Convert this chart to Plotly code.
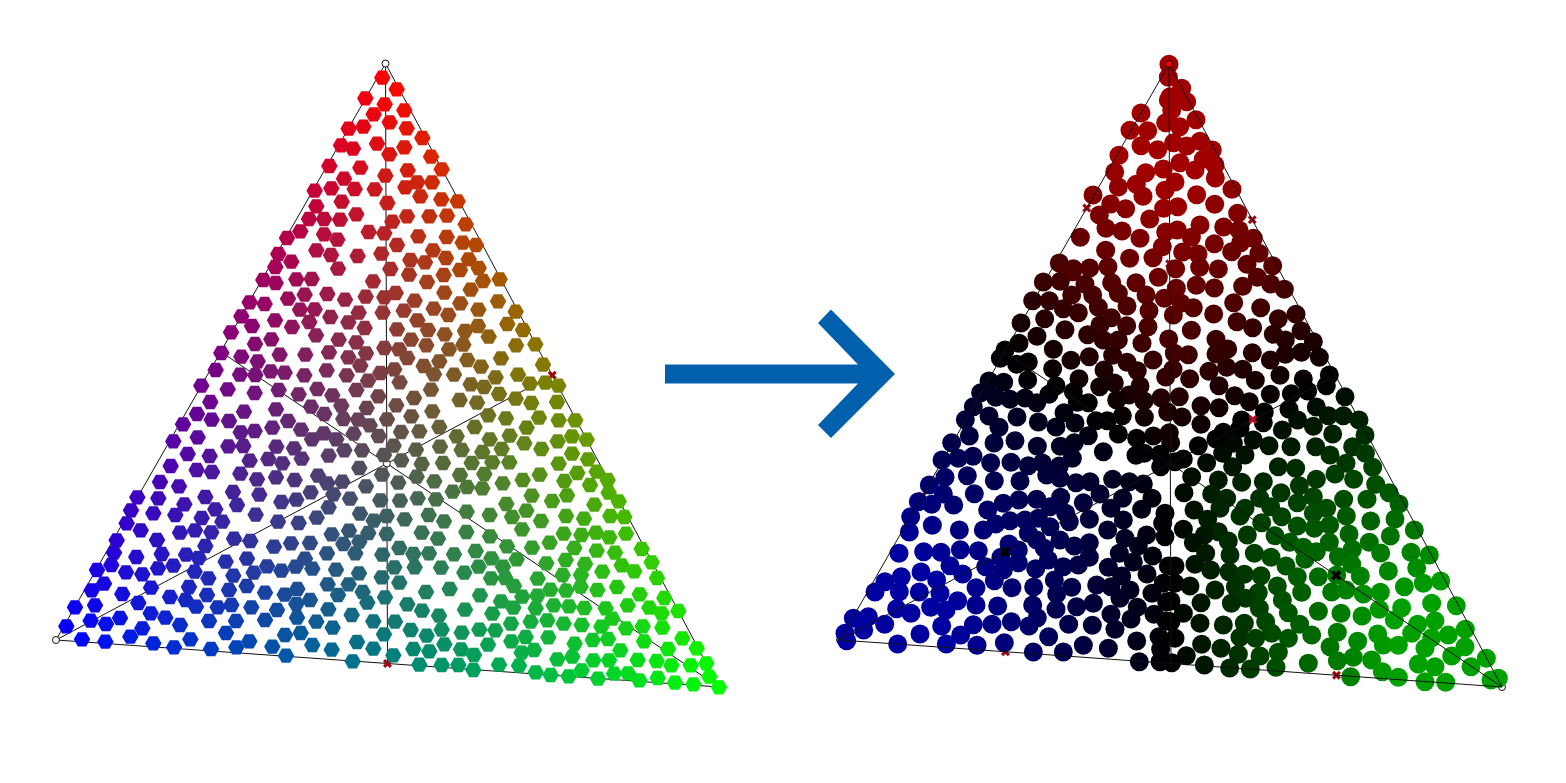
import plotly.graph_objects as go

READ_SCALE = 3

# ---- left triangle: point readings by region ----
left_top_origin = (200, 50)
left_top = [(547,83),(590,118),(496,145),(554,163),(613,181),(521,193),(569,217),(446,236),(490,230),(620,235),(667,264),(423,286),(459,296),(531,281),(613,292),(568,313),(693,320),(388,348),(481,353),(725,358),(623,361),(556,377),(432,386),(652,397),(696,397),(344,422),(394,415),(464,417),(524,418),(616,412),(661,439),(724,448),(773,454),(425,455),(562,459),(349,469),(327,507),(372,507),(420,509),(469,493),(621,499),(688,499),(741,497),(577,515),(797,523),(301,544),(372,553),(506,546),(553,550),(655,559),(740,561),(261,564),(412,569)]

left_mid_origin = (150, 240)
left_mid = [(499,31),(543,45),(623,48),(694,41),(741,15),(849,31),(938,8),(978,15),(385,42),(424,65),(781,60),(825,67),(888,54),(956,58),(376,81),(564,86),(721,87),(930,90),(986,84),(777,104),(881,105),(340,120),(377,129),(439,118),(485,117),(669,124),(831,126),(999,123),(1049,118),(532,162),(464,164),(414,176),(585,179),(647,170),(703,172),(737,159),(883,158),(962,149),(299,187),(344,192),(794,182),(1044,184),(931,190),(450,209),(494,208),(626,218),(698,218),(761,212),(851,206),(985,209),(1097,215),(895,225),(274,229),(541,231),(595,247),(802,241),(375,241),(306,258),(426,261),(478,246),(644,264),(741,268),(834,270),(1072,252),(984,258),(945,273),(1119,270),(243,277),(498,286),(884,283),(1016,290),(364,298),(566,299),(619,307),(783,299),(940,314),(315,312),(829,316),(1098,316),(1156,313),(537,337),(703,324),(747,328),(897,328),(214,339),(648,340),(274,350),(389,344),(466,344),(595,352),(772,354),(1053,355),(952,360),(323,364),(868,364),(631,377),(1179,374),(821,378),(993,380),(197,390),(362,394),(404,398),(530,391),(733,388),(691,399),(852,403),(912,404),(1104,404),(270,404),(316,405),(463,406),(590,406),(1037,412),(654,422),(749,427),(1140,431),(1186,428),(1225,437),(154,437),(962,433),(1002,441),(233,448),(386,450),(502,447),(619,450),(843,449),(314,459),(446,463),(547,466),(1047,462),(685,469),(792,474),(929,480),(1097,476),(981,488),(181,486),(1221,486),(1144,489),(483,500),(739,496),(574,497),(650,504),(282,515),(378,508),(847,514),(141,522),(523,522),(784,529),(1015,526),(1068,535),(1167,533),(185,539),(237,543),(414,543),(580,537),(624,539),(711,538),(1226,541),(1276,541),(99,553),(659,556),(367,563),(868,561),(974,561),(1130,563),(453,569),(272,577),(314,573),(521,580),(611,581),(753,576),(808,574),(686,588),(143,592),(486,598),(559,598),(920,589),(1079,587),(1019,598),(1266,589),(1310,599),(70,604),(1223,604),(280,618),(235,619),(379,620),(432,625),(731,617),(870,620),(1123,610),(583,631),(636,631),(798,629),(935,630),(1055,627),(1174,627),(113,642),(997,636),(1266,641),(179,648),(536,647),(702,645),(299,662),(355,657),(455,656),(754,661),(1314,658)]

left_low_a_origin = (40, 460)
left_low_a = [(392,18),(727,10),(958,24),(470,30),(516,36),(601,41),(360,66),(417,79),(651,58),(708,52),(764,60),(834,47),(907,65),(862,70),(978,79),(1026,44),(292,112),(355,115),(496,111),(579,96),(658,104),(724,126),(769,119),(812,97),(880,103),(930,116),(1021,121),(433,133),(591,135),(273,151),(526,148),(866,142),(340,160),(406,165),(647,164),(960,161),(1040,168),(260,190),(485,174),(547,185),(714,185),(776,189),(830,173),(1001,182),(302,211),(420,218),(465,211),(514,217),(875,223),(927,212),(985,219),(1040,222),(230,241),(351,240),(582,236),(631,243),(702,260),(753,250),(810,249),(910,252),(958,245),(496,258),(222,278),(365,282),(438,284),(289,291),(476,294),(861,280),(946,280),(1027,284),(795,296),(557,305),(621,296),(214,315),(400,317),(171,330),(354,325),(681,319),(767,320),(817,326),(888,329),(258,337),(464,335),(724,332),(957,340),(307,343),(641,338),(580,347),(505,355),(1025,352),(192,371),(863,373),(926,373),(620,378),(447,381),(333,383),(155,391),(567,390),(772,387),(968,396),(247,402),(894,405),(675,398),(734,404),(390,411),(501,405),(1035,412),(810,420),(437,420),(105,442),(165,436),(295,429),(769,432),(982,428),(468,440),(533,442),(574,435),(634,442),(865,448),(711,450),(332,460),(152,482),(240,474),(935,465),(376,473),(771,473),(79,499),(198,492),(420,495),(507,483),(588,483),(675,480),(829,485),(878,503),(1000,484),(307,505),(558,519),(735,525),(782,519),(1032,523),(126,538),(196,545),(271,530),(451,538),(628,544),(951,546),(340,550),(697,560),(817,555),(875,569),(1000,566),(402,562),(513,567),(589,562),(738,587),(938,604)]

left_low_b_origin = (380, 460)
left_low_b = [(125,12),(189,9),(275,9),(337,7),(388,7),(536,11),(110,50),(240,45),(313,42),(479,44),(592,39),(650,35),(683,60),(55,68),(163,64),(261,81),(307,85),(368,70),(428,60),(553,63),(630,75),(218,95),(686,98),(455,107),(561,106),(60,122),(113,115),(168,118),(716,124),(379,132),(516,123),(643,134),(439,152),(146,165),(260,155),(329,165),(558,168),(74,178),(396,171),(691,168),(733,171),(612,176),(192,184),(483,183),(426,208),(125,218),(259,216),(551,221),(604,225),(648,218),(738,221),(330,229),(174,236),(688,232),(381,259),(509,248),(785,267),(58,264),(456,263),(583,264),(650,272),(147,280),(100,282),(222,283),(287,273),(705,278),(334,295),(410,298),(815,307),(557,300),(43,322),(104,322),(183,323),(296,320),(499,310),(615,312),(725,316),(369,320),(253,338),(763,334),(667,335),(548,345),(603,345),(333,355),(473,356),(376,354),(831,354),(58,368),(602,380),(402,378),(511,389),(558,392),(652,390),(711,381),(138,396),(209,387),(779,403),(300,406),(427,410),(472,407),(853,414),(82,433),(363,424),(521,436),(567,439),(613,444),(677,445),(743,436),(808,443),(400,443),(467,445),(126,452),(255,449),(895,453),(845,460),(177,467),(337,461),(697,476),(502,481),(45,485),(393,491),(452,485),(551,491),(605,495),(664,500),(788,499),(847,503),(738,505),(92,510),(185,509),(298,509),(346,511),(245,518),(140,527),(437,531),(505,532),(684,537),(638,540),(907,535),(394,544),(792,544),(193,553),(584,551),(324,554),(100,567),(950,565),(243,568),(864,567),(462,570),(721,571),(148,574),(425,578),(40,586),(282,585),(577,590),(532,598),(640,601),(687,601),(773,600),(830,603),(979,610),(417,617),(357,614),(874,616),(932,616),(118,614),(185,615),(235,615),(280,630),(605,631),(467,637),(702,641),(744,640),(512,645),(566,649),(988,650),(654,656),(833,654),(778,661),(885,668),(940,673),(1017,682)]

# ---- right triangle: point readings by region ----
right_top_origin = (1000, 50)
right_top = [(507,43),(505,82),(545,115),(510,140),(560,155),(505,150),(515,180),(423,189),(588,209),(497,218),(539,230),(390,241),(443,242),(521,278),(560,288),(600,274),(423,287),(473,299),(637,300),(357,316),(610,328),(540,338),(645,345),(344,366),(490,357),(585,360),(437,368),(646,384),(525,396),(409,403),(355,411),(696,418),(495,421),(279,435),(590,434),(429,439),(332,462),(644,463),(491,475),(533,470),(377,476),(713,490),(298,495),(449,507),(600,525),(318,535),(671,531),(366,543),(497,546),(532,540),(717,540),(241,562),(420,565),(574,562),(760,565),(643,581),(722,578),(487,590),(317,601),(695,605),(777,610),(548,606),(594,612),(389,625),(459,623),(741,643),(178,639),(818,647),(324,650),(220,656),(269,654),(527,656),(599,652),(655,657)]

right_mid_origin = (930, 270)
right_mid = [(340,36),(391,34),(427,5),(545,38),(465,43),(618,38),(685,22),(739,55),(799,46),(853,54),(938,49),(982,22),(1022,42),(1063,58),(425,75),(488,75),(648,75),(565,70),(703,85),(308,92),(358,92),(911,98),(591,108),(753,100),(790,113),(400,116),(445,128),(505,112),(657,122),(992,113),(851,132),(730,135),(1098,133),(1045,146),(344,146),(544,143),(273,159),(921,155),(510,165),(590,167),(654,170),(968,173),(405,179),(784,181),(1113,182),(1030,193),(473,194),(321,199),(520,210),(565,210),(716,207),(858,208),(1066,210),(1150,215),(636,220),(267,220),(225,240),(370,238),(893,237),(967,248),(548,256),(733,250),(775,254),(858,252),(1114,247),(1066,253),(478,260),(211,265),(1168,262),(423,271),(669,270),(1021,270),(260,283),(295,276),(591,277),(890,292),(368,296),(622,302),(522,300),(837,304),(938,298),(729,298),(1050,316),(1198,315),(707,321),(447,326),(293,330),(779,326),(976,331),(1120,327),(177,333),(221,337),(378,347),(553,339),(509,350),(630,348),(867,347),(1133,363),(1189,347),(430,365),(357,373),(1084,371),(914,377),(1021,373),(152,368),(197,382),(240,388),(285,384),(320,398),(597,375),(748,380),(693,383),(1245,380),(560,390),(642,393),(958,395),(442,397),(475,398),(813,407),(130,410),(867,413),(1077,418),(1159,411),(713,426),(1003,426),(402,428),(177,438),(261,441),(577,437),(643,442),(756,441),(1195,437),(1240,437),(106,449),(532,452),(498,452),(325,456),(435,459),(813,463),(1103,450),(935,450),(1000,458),(1287,450),(207,472),(378,471),(1150,469),(1057,480),(475,497),(565,492),(670,498),(718,488),(880,487),(118,498),(1208,492),(930,475),(1305,495),(620,505),(858,507),(65,518),(192,519),(255,512),(970,510),(722,518),(322,529),(391,529),(433,518),(805,527),(910,520),(1017,527),(1083,530),(1157,530),(1268,530),(878,550),(520,545),(643,550),(618,556),(690,553),(129,559),(85,565),(36,570),(945,555),(1200,555),(1306,550),(427,565),(182,578),(243,577),(295,587),(337,579),(760,567),(830,578),(1248,580),(388,588),(692,590),(735,575),(908,590),(1045,590),(1097,595),(1328,592)]

right_low_a_origin = (830, 470)
right_low_a = [(298,45),(345,22),(412,17),(493,32),(570,33),(650,15),(690,25),(738,38),(780,35),(848,28),(898,35),(940,42),(340,72),(433,71),(265,95),(305,103),(371,105),(520,100),(567,90),(620,88),(692,82),(810,72),(878,85),(966,85),(473,120),(760,98),(843,115),(242,140),(497,162),(540,152),(585,150),(660,110),(625,145),(707,130),(935,118),(1005,130),(307,166),(388,180),(460,180),(718,155),(778,148),(880,150),(238,186),(660,170),(595,190),(833,180),(998,160),(620,210),(690,210),(885,205),(950,195),(537,222),(778,218),(207,250),(281,245),(333,247),(391,239),(445,242),(643,235),(733,228),(925,228),(1005,200),(565,240),(513,262),(868,250),(968,258),(360,287),(655,270),(778,262),(910,276),(467,290),(565,278),(745,285),(700,290),(835,292),(1015,288),(617,296),(520,300),(398,312),(273,306),(214,320),(875,318),(951,312),(165,335),(320,330),(493,332),(673,330),(438,353),(546,353),(611,351),(725,352),(800,345),(843,350),(900,360),(1000,340),(135,366),(208,365),(268,366),(330,370),(680,372),(966,370),(870,385),(383,392),(608,405),(438,405),(503,408),(740,410),(790,400),(1010,395),(302,412),(200,416),(348,420),(678,418),(922,412),(243,430),(622,443),(843,433),(972,433),(115,440),(70,445),(903,447),(1008,452),(164,463),(430,464),(486,463),(544,455),(597,468),(716,463),(787,466),(855,478),(101,480),(335,468),(270,492),(392,495),(656,500),(45,490),(987,500),(920,513),(523,518),(203,522),(349,522),(441,526),(760,526),(835,535),(992,538),(610,546),(700,546),(928,575),(990,575),(50,512)]

right_low_b_origin = (1165, 470)
right_low_b = [(80,20),(160,30),(230,37),(295,35),(403,47),(454,28),(510,12),(566,28),(632,43),(57,68),(140,72),(185,85),(284,85),(348,68),(445,80),(672,68),(606,88),(536,88),(397,98),(702,102),(87,120),(165,115),(240,115),(485,115),(317,110),(128,148),(225,138),(350,140),(445,130),(544,138),(690,147),(617,153),(290,158),(397,168),(494,165),(448,175),(55,178),(160,185),(118,195),(748,180),(247,195),(330,197),(552,192),(676,198),(85,218),(190,213),(374,217),(493,217),(613,217),(415,232),(454,245),(738,247),(562,238),(647,249),(793,255),(122,250),(268,250),(195,255),(318,262),(420,268),(520,260),(90,283),(30,288),(137,300),(363,288),(560,283),(755,294),(192,305),(238,313),(288,317),(397,320),(670,303),(460,320),(515,315),(586,318),(827,333),(775,340),(30,340),(75,348),(211,350),(337,348),(150,360),(718,350),(280,368),(410,367),(500,366),(543,360),(595,372),(646,367),(18,393),(242,385),(352,390),(108,398),(199,400),(800,400),(283,415),(710,413),(874,407),(643,418),(370,428),(460,424),(528,430),(591,438),(55,430),(688,450),(302,455),(810,452),(105,460),(238,460),(404,463),(758,463),(18,455),(175,465),(517,487),(901,478),(320,490),(740,490),(638,492),(440,495),(225,502),(30,505),(272,505),(850,495),(800,503),(370,505),(578,514),(110,523),(655,525),(700,526),(168,535),(780,535),(495,530),(900,530),(565,562),(340,547),(220,553),(64,557),(285,558),(620,570),(860,558),(517,572),(964,565),(430,580),(118,585),(760,582),(194,594),(333,592),(810,590),(918,590),(256,597),(652,605),(557,620),(700,622),(978,630),(780,635),(842,637),(1000,625),(20,578)]

# ---- triangle corners (red, green, blue) ----
left_corners = {"red": (385.5, 63.5), "blue": (56, 640), "green": (719, 687)}
right_corners = {"red": (1169, 64), "blue": (840, 640), "green": (1502, 687)}

# ---- arrow outline ----
arrow_x = [665, 858, 818, 831, 895, 831, 818, 858, 665]
arrow_y = [364.5, 364.5, 323, 309.5, 374, 438, 425, 383.5, 383.5]


def read(origin, readings):
    return ([origin[0] + p[0] / READ_SCALE for p in readings],
            [origin[1] + p[1] / READ_SCALE for p in readings])


def merge(*parts):
    xs, ys = [], []
    for origin, readings in parts:
        a, b = read(origin, readings)
        xs += a
        ys += b
    return xs, ys


def weights(corners, x, y):
    (x1, y1), (x2, y2), (x3, y3) = corners["red"], corners["green"], corners["blue"]
    det = (y2 - y3) * (x1 - x3) + (x3 - x2) * (y1 - y3)
    r = ((y2 - y3) * (x - x3) + (x3 - x2) * (y - y3)) / det
    g = ((y3 - y1) * (x - x3) + (x1 - x3) * (y - y3)) / det
    return [max(0.0, min(1.0, v)) for v in (r, g, 1 - r - g)]


def mix_colour(corners, x, y):
    r, g, b = weights(corners, x, y)
    s = (r + g + b) or 1
    return f"rgb({255*r/s:.0f},{255*g/s:.0f},{255*b/s:.0f})"


def winner_colour(corners, x, y):
    w = weights(corners, x, y)
    top = sorted(w)[-1]
    second = sorted(w)[-2]
    v = min(1.0, 1.5 * (top - second)) * 160
    i = w.index(top)
    c = [0, 0, 0]
    c[i] = v
    return f"rgb({c[0]:.0f},{c[1]:.0f},{c[2]:.0f})"


def along(a, b, t):
    return (a[0] + (b[0] - a[0]) * t, a[1] + (b[1] - a[1]) * t)


def frame_lines(c):
    T, L, R = c["red"], c["blue"], c["green"]
    xs, ys = [T[0], R[0], L[0], T[0], None], [T[1], R[1], L[1], T[1], None]
    for v, p, q in ((T, L, R), (L, T, R), (R, T, L)):
        m = along(p, q, 0.5)
        xs += [v[0], m[0], None]
        ys += [v[1], m[1], None]
    return xs, ys


def line_trace(c):
    xs, ys = frame_lines(c)
    return go.Scatter(x=xs, y=ys, mode="lines", line=dict(color="#111111", width=1), hoverinfo="skip")


def cross_trace(points, colour, size=7):
    return go.Scatter(x=[p[0] for p in points], y=[p[1] for p in points], mode="markers",
                      marker=dict(symbol="x", size=size, color=colour, line=dict(width=0)), hoverinfo="skip")


def vertex_trace(c, keys, fill):
    return go.Scatter(x=[c[k][0] for k in keys], y=[c[k][1] for k in keys], mode="markers",
                      marker=dict(symbol="circle", size=7, color=fill, line=dict(color="#111111", width=1)),
                      hoverinfo="skip")


lx, ly = merge((left_top_origin, left_top), (left_mid_origin, left_mid),
               (left_low_a_origin, left_low_a), (left_low_b_origin, left_low_b))
rx, ry = merge((right_top_origin, right_top), (right_mid_origin, right_mid),
               (right_low_a_origin, right_low_a), (right_low_b_origin, right_low_b))

fig = go.Figure()

# left triangle
lc = left_corners
lT, lL, lR = lc["red"], lc["blue"], lc["green"]
lmid = [along(lL, lR, 0.5), along(lT, lR, 0.5), along(lT, lL, 0.5)]
lcentre = ((lT[0]+lL[0]+lR[0])/3, (lT[1]+lL[1]+lR[1])/3)
fig.add_trace(line_trace(lc))
fig.add_trace(cross_trace(lmid, "#9a0a14", 8))
fig.add_trace(vertex_trace(lc, ["red", "blue", "green"], "white"))
fig.add_trace(go.Scatter(x=[lcentre[0]], y=[lcentre[1]], mode="markers",
                         marker=dict(size=7, color="white", line=dict(color="#111111", width=1)), hoverinfo="skip"))
fig.add_trace(go.Scatter(x=lx, y=ly, mode="markers", hoverinfo="skip",
                         marker=dict(symbol="hexagon2", size=16.5,
                                     color=[mix_colour(lc, a, b) for a, b in zip(lx, ly)], line=dict(width=0))))

# right triangle
rc = right_corners
rT, rL, rR = rc["red"], rc["blue"], rc["green"]
rmidB, rmidR, rmidL = along(rL, rR, 0.5), along(rT, rR, 0.5), along(rT, rL, 0.5)
edge_marks = [along(rT, rL, 0.25), along(rT, rL, 0.75), along(rT, rR, 0.25), along(rT, rR, 0.75),
              along(rL, rR, 0.25), along(rL, rR, 0.75), along(rT, rmidB, 1/3)]
fig.add_trace(cross_trace(edge_marks, "#9a0a14", 8))
fig.add_trace(vertex_trace(rc, ["blue", "green"], "white"))
fig.add_trace(go.Scatter(x=rx, y=ry, mode="markers", hoverinfo="skip",
                         marker=dict(symbol="circle", size=19,
                                     color=[winner_colour(rc, a, b) for a, b in zip(rx, ry)], line=dict(width=0))))
fig.add_trace(line_trace(rc))
fig.add_trace(cross_trace([along(rL, rmidR, 1/3), along(rR, rmidL, 1/3)], "#000000", 9))
fig.add_trace(cross_trace([along(rL, rmidR, 5/6)], "#b01020", 8))
fig.add_trace(vertex_trace(rc, ["red"], "#ff0000"))

# arrow
fig.add_trace(go.Scatter(x=arrow_x, y=arrow_y, mode="lines", fill="toself", fillcolor="#0060ae",
                         line=dict(width=0, color="#0060ae"), hoverinfo="skip"))

fig.update_layout(width=1566, height=783, margin=dict(l=0, r=0, t=0, b=0), showlegend=False,
                  paper_bgcolor="white", plot_bgcolor="white",
                  xaxis=dict(range=[0, 1566], visible=False, fixedrange=True),
                  yaxis=dict(range=[783, 0], visible=False, fixedrange=True))
fig.write_html("out.html", config={"displayModeBar": False},
               post_script="document.body.style.margin='0';document.documentElement.style.overflow='hidden';")
